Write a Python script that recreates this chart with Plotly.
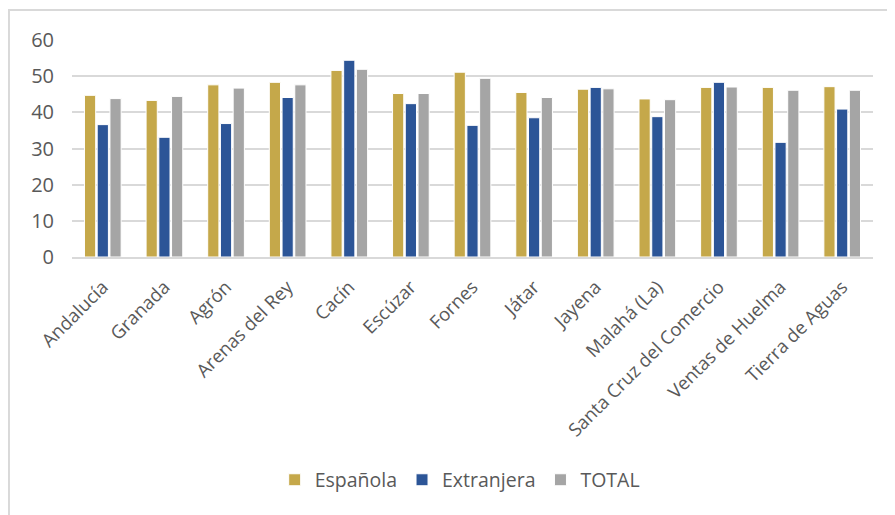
import plotly.graph_objects as go

categories = ["Andalucía", "Granada", "Agrón", "Arenas del Rey", "Cacín", "Escúzar",
              "Fornes", "Játar", "Jayena", "Malahá (La)", "Santa Cruz del Comercio",
              "Ventas de Huelma", "Tierra de Aguas"]
espanola = [44.7, 43.3, 47.6, 48.3, 51.6, 45.2, 51.1, 45.5, 46.4, 43.7, 46.9, 46.9, 47.1]
extranjera = [36.6, 33.1, 36.9, 44.1, 54.4, 42.4, 36.4, 38.5, 46.9, 38.8, 48.3, 31.7, 40.9]
total = [43.8, 44.4, 46.7, 47.6, 51.9, 45.2, 49.4, 44.1, 46.5, 43.5, 47.0, 46.1, 46.1]

series = [("Española", espanola, "#C5A84A"),
          ("Extranjera", extranjera, "#2C5597"),
          ("TOTAL", total, "#A5A5A5")]

FONT = "Open Sans, Noto Sans, sans-serif"
fig = go.Figure()
for name, vals, color in series:
    fig.add_trace(go.Bar(x=categories, y=vals, name=name,
                         marker=dict(color=color, line=dict(color="white", width=1))))

fig.update_layout(
    width=887, height=507,
    margin=dict(l=64, r=22, t=32, b=258, autoexpand=False),
    paper_bgcolor="white", plot_bgcolor="white",
    barmode="group", bargap=0.38, bargroupgap=0.12,
    font=dict(family=FONT, color="#595959"),
    legend=dict(orientation="h", x=0.484, xanchor="center", y=-1.028, yanchor="middle",
                font=dict(size=19.5, color="#595959"), itemwidth=30, tracegroupgap=0),
    xaxis=dict(tickangle=-45, tickfont=dict(size=18.5, color="#595959"), automargin=False,
               showgrid=False, showline=True, linecolor="#D9D9D9", linewidth=2,
               ticks="", ticklabelstandoff=10),
    yaxis=dict(range=[0, 60], dtick=10, tickfont=dict(size=20, color="#595959"),
               automargin=False,
               showgrid=True, gridcolor="#D9D9D9", gridwidth=2,
               zeroline=False, showline=False, ticks="", ticklabelstandoff=17),
    shapes=[dict(type="rect", xref="paper", yref="paper",
                 x0=-0.0787, x1=1.04, y0=-1.25, y1=1.138,
                 line=dict(color="#D9D9D9", width=2), fillcolor="rgba(0,0,0,0)",
                 layer="below")],
)
fig.write_html("out.html")
